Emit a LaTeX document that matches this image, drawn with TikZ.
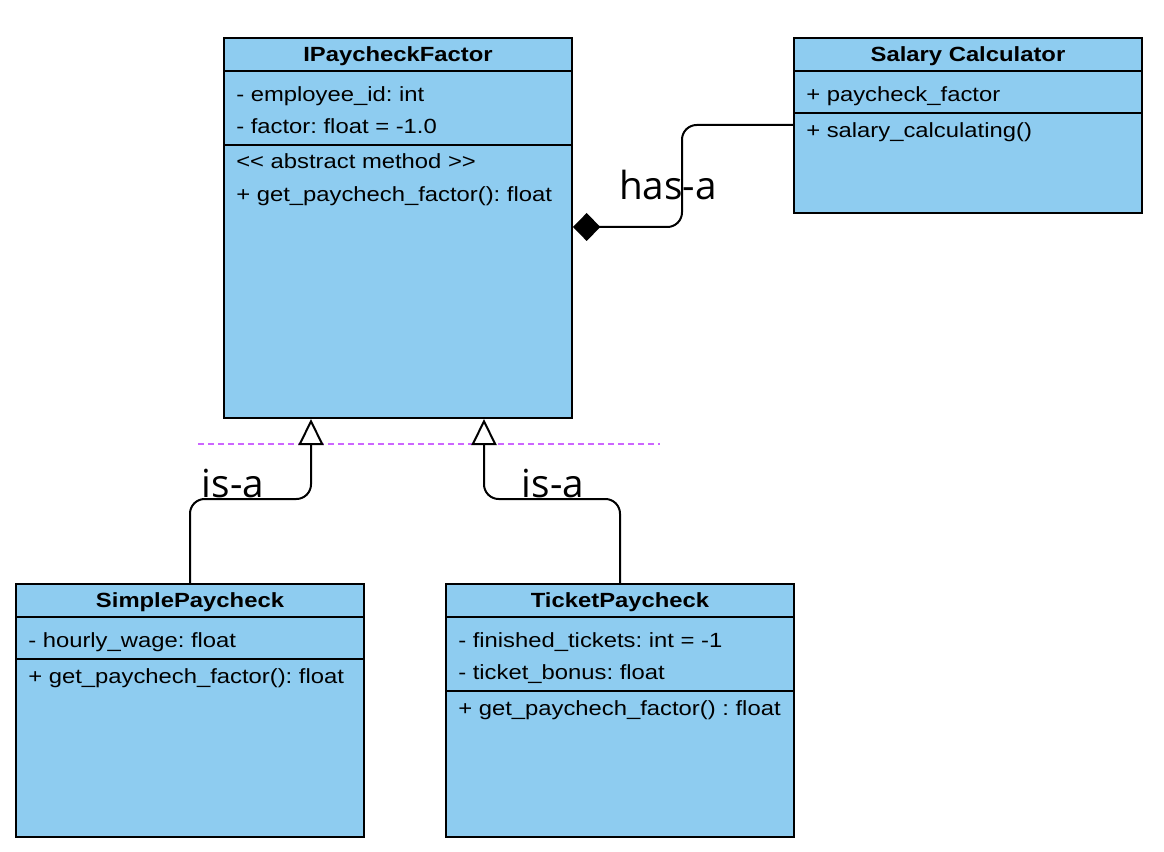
\documentclass[tikz,border=0pt]{standalone}
\usepackage{fontspec}
\setmainfont[FakeStretch=1.16]{Liberation Sans}
\newfontfamily\labelfont{Open Sans}
\usetikzlibrary{arrows.meta,calc}
\definecolor{clsblue}{RGB}{142,204,240}
\definecolor{dashviolet}{RGB}{204,102,255}
\frenchspacing
\tikzset{
  cls/.style={draw=black, line width=1.5pt, fill=clsblue, rectangle, anchor=north west, inner sep=0pt},
  sep/.style={line width=1.5pt},
  ctitle/.style={font=\fontsize{15.4pt}{18pt}\selectfont\bfseries, anchor=mid, inner sep=0pt},
  ctext/.style={font=\fontsize{15.4pt}{18pt}\selectfont, anchor=mid west, inner sep=0pt},
  conn/.style={line width=1.5pt, rounded corners=11pt},
  isa/.style={conn, -{Triangle[open, length=19.5pt, width=18.75pt, line width=1.5pt]}},
  hasa/.style={conn, -{Diamond[length=20.5pt, width=21pt]}},
  rel/.style={font=\labelfont\fontsize{29pt}{34pt}\selectfont, anchor=base, inner sep=0pt},
  guide/.style={draw=dashviolet, line width=1.1pt, dash pattern=on 4.5pt off 3pt}
}
\begin{document}
\begin{tikzpicture}[x=0.75pt, y=-0.75pt]
\useasboundingbox (0,0) rectangle (1164,852);

% dashed guide line
\coordinate (gl) at (198,444);
\coordinate (gr) at (660,444);
\draw[guide] (gl) -- (gr);

% IPaycheckFactor
\node[cls, minimum width=348*0.75pt, minimum height=380*0.75pt] (ipf) at (223,37) {};
\draw[sep] ($(ipf.north west)+(0,34)$) -- ($(ipf.north east)+(0,34)$);
\draw[sep] ($(ipf.north west)+(0,108)$) -- ($(ipf.north east)+(0,108)$);
\node[ctitle] (ipft) at ($(ipf.north)+(0,21)$) {IPaycheckFactor};
\node[ctext] (ipf1) at ($(ipf.north west)+(13,61)$) {- employee\_id: int};
\node[ctext] (ipf2) at ($(ipf.north west)+(13,93)$) {- factor: float = -1.0};
\node[ctext] (ipf3) at ($(ipf.north west)+(13,128)$) {<\kern0pt< abstract method >\kern0pt>};
\node[ctext] (ipf4) at ($(ipf.north west)+(13,161)$) {+ get\_paychech\_factor(): float};

% Salary Calculator
\node[cls, minimum width=348*0.75pt, minimum height=175*0.75pt] (sc) at (793,37) {};
\draw[sep] ($(sc.north west)+(0,34)$) -- ($(sc.north east)+(0,34)$);
\draw[sep] ($(sc.north west)+(0,76)$) -- ($(sc.north east)+(0,76)$);
\node[ctitle] (sct) at ($(sc.north)+(0,21)$) {Salary Calculator};
\node[ctext] (sc1) at ($(sc.north west)+(13,61)$) {+ paycheck\_factor};
\node[ctext] (sc2) at ($(sc.north west)+(13,97)$) {+ salary\_calculating()};

% SimplePaycheck
\node[cls, minimum width=348*0.75pt, minimum height=253*0.75pt] (sp) at (15,583) {};
\draw[sep] ($(sp.north west)+(0,34)$) -- ($(sp.north east)+(0,34)$);
\draw[sep] ($(sp.north west)+(0,76)$) -- ($(sp.north east)+(0,76)$);
\node[ctitle] (spt) at ($(sp.north)+(0,21)$) {SimplePaycheck};
\node[ctext] (sp1) at ($(sp.north west)+(13,61)$) {- hourly\_wage: float};
\node[ctext] (sp2) at ($(sp.north west)+(13,97)$) {+ get\_paychech\_factor(): float};

% TicketPaycheck
\node[cls, minimum width=348*0.75pt, minimum height=253*0.75pt] (tp) at (445,583) {};
\draw[sep] ($(tp.north west)+(0,34)$) -- ($(tp.north east)+(0,34)$);
\draw[sep] ($(tp.north west)+(0,108)$) -- ($(tp.north east)+(0,108)$);
\node[ctitle] (tpt) at ($(tp.north)+(0,21)$) {TicketPaycheck};
\node[ctext] (tp1) at ($(tp.north west)+(13,61)$) {- finished\_tickets: int = -1};
\node[ctext] (tp2) at ($(tp.north west)+(13,93)$) {- ticket\_bonus: float};
\node[ctext] (tp3) at ($(tp.north west)+(13,129)$) {+ get\_paychech\_factor() : float};

% connectors
\draw[hasa] ($(sc.north west)+(0,88)$) -- ++(-111,0) |- ($(ipf.north east)+(0,190)$);
\draw[isa] (sp.north) -- ++(0,-84) -| ($(ipf.south west)+(88,0)$);
\draw[isa] (tp.north) -- ++(0,-84) -| ($(ipf.south west)+(261,0)$);

% relation labels
\node[rel] (lhas) at (668,200) {has-a};
\node[rel] (lisa1) at (233,497) {is-a};
\node[rel] (lisa2) at (553,497) {is-a};
\end{tikzpicture}
\end{document}
